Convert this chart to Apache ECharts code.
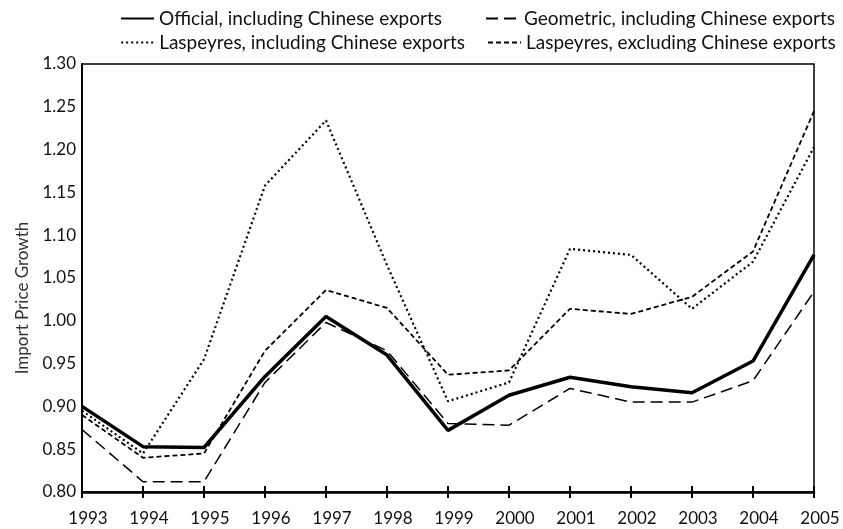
<!DOCTYPE html>
<html>
<head>
<meta charset="utf-8">
<script src="https://cdn.jsdelivr.net/npm/echarts@6/dist/echarts.min.js"></script>
<style>html,body{margin:0;padding:0;background:#fff}#c{width:843px;height:529px}</style>
</head>
<body>
<div id="c"></div>
<script>
const years = ['1993','1994','1995','1996','1997','1998','1999','2000','2001','2002','2003','2004','2005'];
const official      = [0.900, 0.853, 0.852, 0.935, 1.005, 0.960, 0.872, 0.913, 0.934, 0.923, 0.916, 0.953, 1.077];
const geometric     = [0.873, 0.812, 0.812, 0.928, 0.998, 0.965, 0.880, 0.878, 0.921, 0.905, 0.905, 0.930, 1.034];
const laspeyresIncl = [0.895, 0.845, 0.955, 1.158, 1.234, 1.065, 0.906, 0.928, 1.084, 1.077, 1.014, 1.069, 1.203];
const laspeyresExcl = [0.890, 0.840, 0.845, 0.965, 1.036, 1.015, 0.937, 0.942, 1.014, 1.008, 1.028, 1.081, 1.245];
const names = ['Official, including Chinese exports','Geometric, including Chinese exports','Laspeyres, including Chinese exports','Laspeyres, excluding Chinese exports'];

const FONT = 'Lato';
const chart = echarts.init(document.getElementById('c'), null, {renderer:'canvas'});
const legendBase = {itemWidth: 33, itemHeight: 10, itemGap: 4, padding:0,
  itemStyle:{opacity:0},
  textStyle:{fontFamily:FONT, fontSize:19, color:'#111'}};
chart.setOption({
  animation:false,
  backgroundColor:'#fff',
  textStyle:{fontFamily:FONT},
  legend:[
    Object.assign({}, legendBase, {data:[names[0]], right:401, top:9}),
    Object.assign({}, legendBase, {data:[names[1]], left:485, top:9}),
    Object.assign({}, legendBase, {data:[names[2]], right:378, top:33}),
    Object.assign({}, legendBase, {data:[names[3]], left:487, top:33})
  ],
  grid:{left:82, right:29, top:64, bottom:37, show:true, borderColor:'#000', borderWidth:1.5},
  xAxis:[{
    type:'category', data:years, boundaryGap:false,
    axisLine:{lineStyle:{color:'#000', width:2.5}},
    axisTick:{show:true, length:6, lineStyle:{color:'#000', width:2}},
    axisLabel:{color:'#111', fontSize:17, fontFamily:FONT, margin:18, padding:[0,0,0,12]},
    splitLine:{show:false}
  },{
    type:'category', data:years, boundaryGap:false, position:'bottom',
    axisLine:{show:false},
    axisTick:{show:true, inside:true, length:6, lineStyle:{color:'#000', width:2}},
    axisLabel:{show:false}, splitLine:{show:false}
  }],
  yAxis:{
    type:'value', min:0.8, max:1.3, interval:0.05,
    name:'Import Price Growth', nameLocation:'middle', nameGap:48,
    nameTextStyle:{color:'#333', fontSize:17, fontFamily:FONT, padding:[0,40,0,0]},
    axisLine:{show:true, lineStyle:{color:'#000', width:2}},
    axisTick:{show:false},
    axisLabel:{color:'#111', fontSize:17, fontFamily:FONT, margin:6, formatter:v=>v.toFixed(2)},
    splitLine:{show:false}
  },
  series:[
    {name:names[0], type:'line', data:official, symbol:'none', z:5,
     lineStyle:{color:'#000', width:3.5, type:'solid'}, itemStyle:{color:'#000'}},
    {name:names[1], type:'line', data:geometric, symbol:'none',
     lineStyle:{color:'#000', width:1.5, type:[12,6]}, itemStyle:{color:'#000'}},
    {name:names[2], type:'line', data:laspeyresIncl, symbol:'none',
     lineStyle:{color:'#000', width:2.2, type:[2,3]}, itemStyle:{color:'#000'}},
    {name:names[3], type:'line', data:laspeyresExcl, symbol:'none',
     lineStyle:{color:'#000', width:1.8, type:[5,3]}, itemStyle:{color:'#000'}}
  ]
});
</script>
</body>
</html>
